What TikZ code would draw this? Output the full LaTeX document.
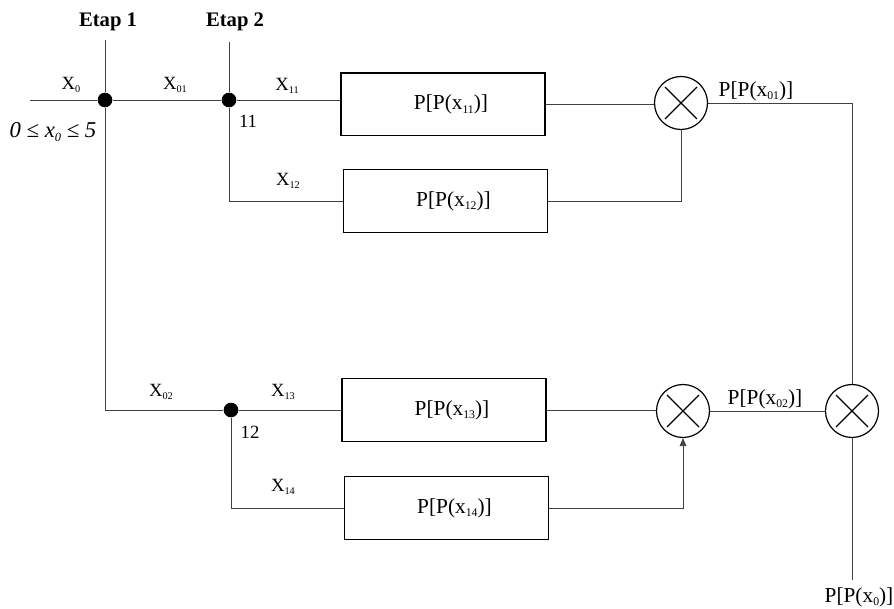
\documentclass[tikz,border=0pt]{standalone}
\usepackage{fontspec}
\usepackage{graphicx}
\setmainfont{Liberation Serif}
\usetikzlibrary{arrows.meta}
\newcommand{\lo}[1]{\raisebox{-0.35ex}{\scalebox{0.55}{#1}}}
\begin{document}
\begin{tikzpicture}[x=0.75pt,y=-0.75pt,
  wire/.style={draw=black!75, line width=0.6pt},
  blk/.style={draw, line width=1pt, minimum width=153pt, minimum height=47pt, inner sep=0pt, font=\fontsize{16}{18}\selectfont},
  mult/.style={circle, draw, line width=0.9pt, minimum size=39.75pt, inner sep=0pt,
    path picture={\draw[line width=0.9pt]
      ([shift={(-12pt,-12pt)}]path picture bounding box.center) -- ([shift={(12pt,12pt)}]path picture bounding box.center)
      ([shift={(-12pt,12pt)}]path picture bounding box.center) -- ([shift={(12pt,-12pt)}]path picture bounding box.center);}},
  dotn/.style={circle, fill=black, minimum size=11pt, inner sep=0pt},
  lbl/.style={font=\fontsize{14}{16}\selectfont, inner sep=0pt},
  plbl/.style={font=\fontsize{16}{18}\selectfont, inner sep=0pt},
  etap/.style={font=\fontsize{15.5}{17}\selectfont\bfseries, inner sep=0pt}
  ]
\useasboundingbox (0,0) rectangle (894,609);

% junctions
\node[dotn] (A) at (105,100) {};
\node[dotn] (B) at (229,100) {};
\node[dotn] (C) at (231,410) {};
\coordinate (in) at (30,100);
\coordinate (t1) at (105,40);
\coordinate (t2) at (229,42);
\coordinate (k1) at (105,410);

% blocks
\node[blk] (b11) at (443,104.5) {\hspace*{12pt}P[P(x\lo{11})]};
\node[blk] (b12) at (445.5,201) {\hspace*{12pt}P[P(x\lo{12})]};
\node[blk] (b13) at (444,410) {\hspace*{12pt}P[P(x\lo{13})]};
\node[blk] (b14) at (446.5,508) {\hspace*{12pt}P[P(x\lo{14})]};

% multipliers
\node[mult] (m1) at (681,103) {};
\node[mult] (m2) at (683,411) {};
\node[mult] (m3) at (852,411) {};
\coordinate (out) at (852,580);

% wires
\draw[wire] (t1) -- (A);
\draw[wire] (t2) -- (B);
\draw[wire] (in) -- (A) -- (B) -- (B -| b11.west);
\draw[wire] (B) |- (b12.west);
\draw[wire] (A) -- (k1) -- (C) -- (C -| b13.west);
\draw[wire] (C) |- (b14.west);
\draw[wire] (b11.east) -- (b11.east -| m1.west);
\draw[wire] (b12.east) -| (m1.south);
\draw[wire] (b13.east) -- (b13.east -| m2.west);
\draw[wire, -{Triangle[length=6pt,width=5pt]}] (b14.east) -| (m2.south);
\draw[wire] (m1.east) -| (m3.north);
\draw[wire] (m2.east) -- (m3.west);
\draw[wire] (m3.south) -- (out);

% labels
\node[etap] at (108,22) {Etap 1};
\node[etap] at (235,22) {Etap 2};
\node[lbl] at (71,85) {X\lo{0}};
\node[lbl] at (175,85) {X\lo{01}};
\node[lbl] at (287,86) {X\lo{11}};
\node[lbl] at (288,181) {X\lo{12}};
\node[lbl] at (161,392) {X\lo{02}};
\node[lbl] at (283,392) {X\lo{13}};
\node[lbl] at (283,487) {X\lo{14}};
\node[lbl] at (248,121) {11};
\node[lbl] at (250,432) {12};
\node[inner sep=0pt, font=\fontsize{17}{19}\selectfont] at (53,132) {\textit{0 ≤ x\lo{0} ≤ 5}};
\node[plbl] at (756,91) {P[P(x\lo{01})]};
\node[plbl] at (765,399) {P[P(x\lo{02})]};
\node[plbl] at (859,597) {P[P(x\lo{0})]};
\end{tikzpicture}
\end{document}
